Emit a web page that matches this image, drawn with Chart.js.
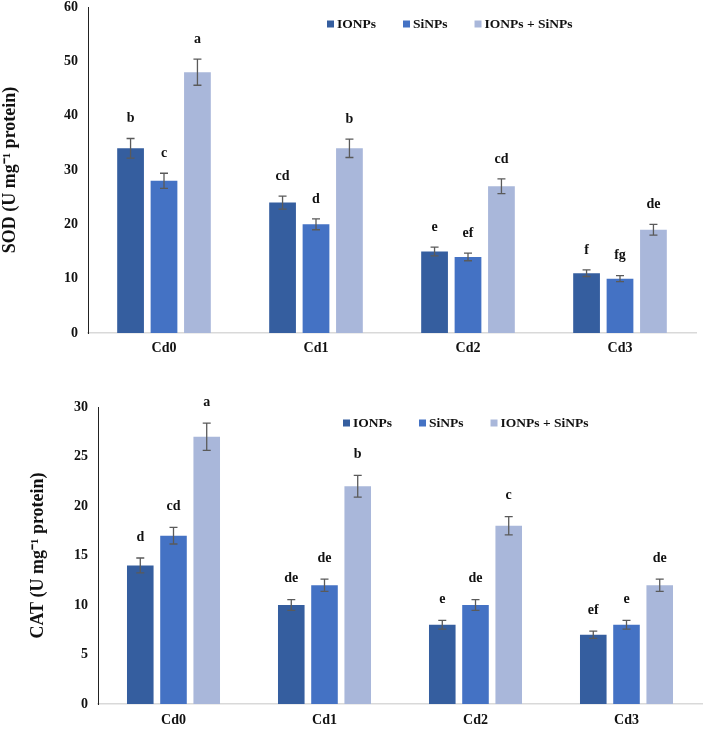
<!DOCTYPE html>
<html>
<head>
<meta charset="utf-8">
<script src="https://cdn.jsdelivr.net/npm/chart.js@4.4.0/dist/chart.umd.min.js"></script>
<style>
  body { margin: 0; background: #fff; }
  .wrap { position: absolute; left: 0; width: 703px; }
</style>
</head>
<body>
<div class="wrap" style="top:0"><canvas id="sodChart" width="703" height="360"></canvas></div>
<div class="wrap" style="top:360px"><canvas id="catChart" width="703" height="369"></canvas></div>
<script>
// ===== DATA =====
const categories = ['Cd0', 'Cd1', 'Cd2', 'Cd3'];
const seriesNames = ['IONPs', 'SiNPs', 'IONPs + SiNPs'];
const seriesColors = ['#355e9f', '#4472c4', '#a9b7da'];

// SOD (U mg-1 protein)
const sodIONPs = [34, 24, 15, 11];
const sodSiNPs = [28, 20, 14, 10];
const sodBoth = [48, 34, 27, 19];
const sodErrIONPs = [1.8, 1.2, 0.8, 0.6];
const sodErrSiNPs = [1.4, 1.0, 0.7, 0.55];
const sodErrBoth = [2.4, 1.7, 1.35, 1.0];
const sodLetIONPs = ['b', 'cd', 'e', 'f'];
const sodLetSiNPs = ['c', 'd', 'ef', 'fg'];
const sodLetBoth = ['a', 'b', 'cd', 'de'];
const sodTicks = [0, 10, 20, 30, 40, 50, 60];

// CAT (U mg-1 protein)
const catIONPs = [14, 10, 8, 7];
const catSiNPs = [17, 12, 10, 8];
const catBoth = [27, 22, 18, 12];
const catErrIONPs = [0.75, 0.54, 0.44, 0.37];
const catErrSiNPs = [0.84, 0.62, 0.54, 0.44];
const catErrBoth = [1.38, 1.1, 0.92, 0.62];
const catLetIONPs = ['d', 'de', 'e', 'ef'];
const catLetSiNPs = ['cd', 'de', 'de', 'e'];
const catLetBoth = ['a', 'b', 'c', 'de'];
const catTicks = [0, 5, 10, 15, 20, 25, 30];

const serif = '"Liberation Serif", "Times New Roman", serif';

// ===== ERROR BARS, LETTERS AND LEGEND =====
const barExtras = {
    id: 'barExtras',
    afterDatasetsDraw(chart) {
        const ctx = chart.ctx;
        const yScale = chart.scales.y;
        const opts = chart.options.plugins.barExtras;
        chart.data.datasets.forEach(function(ds, i) {
            const meta = chart.getDatasetMeta(i);
            meta.data.forEach(function(bar, j) {
                const v = ds.data[j];
                const e = ds.errors[j];
                const yTop = yScale.getPixelForValue(v + e);
                const yBot = yScale.getPixelForValue(v - e);
                ctx.save();
                ctx.strokeStyle = '#5a5a5a';
                ctx.lineWidth = 1.3;
                ctx.beginPath();
                ctx.moveTo(bar.x, yTop); ctx.lineTo(bar.x, yBot);
                ctx.moveTo(bar.x - 4, yTop); ctx.lineTo(bar.x + 4, yTop);
                ctx.moveTo(bar.x - 4, yBot); ctx.lineTo(bar.x + 4, yBot);
                ctx.stroke();
                ctx.fillStyle = '#111';
                ctx.font = 'bold 14px ' + serif;
                ctx.textAlign = 'center';
                ctx.textBaseline = 'middle';
                ctx.fillText(ds.letters[j], bar.x, yTop - opts.letterGap);
                ctx.restore();
            });
        });
    },
    afterDraw(chart) {
        const ctx = chart.ctx;
        const opts = chart.options.plugins.barExtras;
        let x = opts.legendX;
        const ly = opts.legendY;
        ctx.save();
        ctx.font = 'bold 13.5px ' + serif;
        ctx.textAlign = 'left';
        ctx.textBaseline = 'middle';
        chart.data.datasets.forEach(function(ds) {
            ctx.fillStyle = ds.backgroundColor;
            ctx.fillRect(x, ly - 3.5, 7, 7);
            ctx.fillStyle = '#111';
            ctx.fillText(ds.label, x + 10, ly + 1);
            x += 10 + ctx.measureText(ds.label).width + 27;
        });
        ctx.restore();
    }
};

function buildChart(id, values, errors, letters, ticks, yTitle, layout) {
    const datasets = seriesNames.map(function(name, i) {
        return {
            label: name,
            data: values[i],
            errors: errors[i],
            letters: letters[i],
            backgroundColor: seriesColors[i],
            categoryPercentage: 0.66,
            barPercentage: 0.8
        };
    });

    return new Chart(document.getElementById(id), {
        type: 'bar',
        data: { labels: categories, datasets: datasets },
        plugins: [barExtras],
        options: {
            responsive: false,
            animation: false,
            layout: { padding: layout.padding },
            plugins: {
                legend: { display: false },
                tooltip: { enabled: false },
                barExtras: {
                    letterGap: layout.letterGap,
                    legendX: layout.legendX,
                    legendY: layout.legendY
                }
            },
            scales: {
                x: {
                    afterFit: function(scale) { scale.height = layout.xPad + 17; },
                    grid: { display: false, drawTicks: false },
                    border: { display: true, color: '#d9d9d9', width: 1.5 },
                    ticks: {
                        padding: layout.xPad,
                        color: '#111',
                        font: { family: serif, size: 14, weight: 'bold' }
                    }
                },
                y: {
                    min: ticks[0],
                    max: ticks[ticks.length - 1],
                    afterBuildTicks: function(scale) {
                        scale.ticks = ticks.map(function(t) { return { value: t }; });
                    },
                    afterFit: function(scale) {
                        scale.width = layout.yWidth;
                        scale.paddingTop = 7;
                        scale.paddingBottom = 0;
                    },
                    grid: { display: false, drawTicks: false },
                    border: { display: true, color: '#222', width: 1 },
                    ticks: {
                        padding: 10,
                        color: '#111',
                        font: { family: serif, size: 14, weight: 'bold', lineHeight: 1 }
                    },
                    title: {
                        display: true,
                        text: yTitle,
                        color: '#111',
                        padding: { top: layout.titlePad, bottom: 0 },
                        font: { family: serif, size: 18, weight: 'bold' }
                    }
                }
            }
        }
    });
}

document.addEventListener('DOMContentLoaded', function() {
    buildChart('sodChart',
        [sodIONPs, sodSiNPs, sodBoth],
        [sodErrIONPs, sodErrSiNPs, sodErrBoth],
        [sodLetIONPs, sodLetSiNPs, sodLetBoth],
        sodTicks,
        'SOD (U mg\u207B\u00B9 protein)',
        { padding: { top: 0, right: 7, bottom: 3, left: 0 }, yWidth: 88, titlePad: 0,
          xPad: 7, letterGap: 20, legendX: 327, legendY: 24 });

    buildChart('catChart',
        [catIONPs, catSiNPs, catBoth],
        [catErrIONPs, catErrSiNPs, catErrBoth],
        [catLetIONPs, catLetSiNPs, catLetBoth],
        catTicks,
        'CAT (U mg\u207B\u00B9 protein)',
        { padding: { top: 47, right: 1, bottom: 0, left: 0 }, yWidth: 98, titlePad: 28,
          xPad: 8, letterGap: 21, legendX: 343, legendY: 63 });
});
</script>
</body>
</html>
